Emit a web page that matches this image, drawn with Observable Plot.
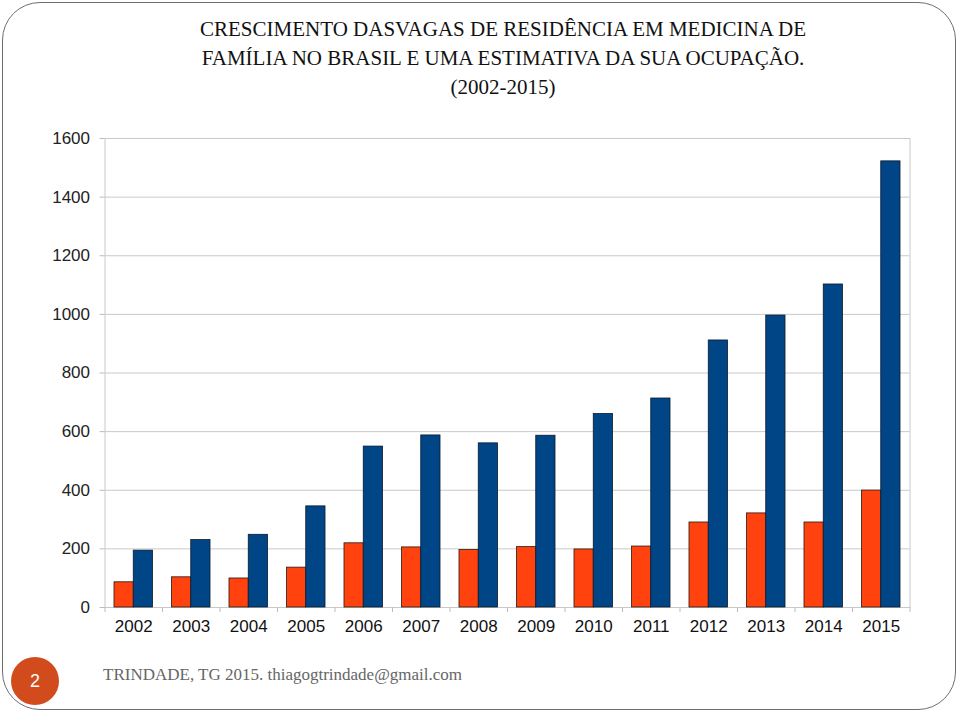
<!DOCTYPE html>
<html>
<head>
<meta charset="utf-8">
<script src="https://cdn.jsdelivr.net/npm/d3@7"></script>
<script src="https://cdn.jsdelivr.net/npm/@observablehq/plot@0.6"></script>
<style>
  html, body { margin: 0; padding: 0; background: #fff; }
  #slide { position: relative; width: 960px; height: 714px; overflow: hidden; background: #fff; }
  #frame { position: absolute; left: 2px; top: 2px; width: 952px; height: 706px; border: 1.5px solid #6e6e6e; border-radius: 38px; box-sizing: content-box; }
  #title { position: absolute; left: 0; width: 1006px; top: 15px; text-align: center; font-family: "Liberation Serif", serif; font-size: 21px; line-height: 29px; color: #111; }
  #chart { position: absolute; left: 0; top: 120px; }
  #badge { position: absolute; left: 11px; top: 657px; width: 48px; height: 48px; border-radius: 50%; background: #d14b1d; color: #fff; font-family: "Liberation Sans", sans-serif; font-size: 18px; line-height: 48px; text-align: center; }
  #footer { position: absolute; left: 103px; top: 665px; font-family: "Liberation Serif", serif; font-size: 17px; color: #666; }
</style>
</head>
<body>
<div id="slide">
  <div id="frame"></div>
  <div id="title">CRESCIMENTO DASVAGAS DE RESIDÊNCIA EM MEDICINA DE<br>FAMÍLIA NO BRASIL E UMA ESTIMATIVA DA SUA OCUPAÇÃO.<br>(2002-2015)</div>
  <div id="chart"></div>
  <div id="badge">2</div>
  <div id="footer">TRINDADE, TG 2015. thiagogtrindade@gmail.com</div>
</div>
<script>
const years = ["2002","2003","2004","2005","2006","2007","2008","2009","2010","2011","2012","2013","2014","2015"];
const ocupadas = [86, 103, 99, 136, 219, 205, 196, 206, 198, 208, 290, 321, 290, 399];
const vagas = [194, 230, 248, 345, 549, 587, 560, 586, 660, 713, 911, 996, 1102, 1522];
const yTicks = [0, 200, 400, 600, 800, 1000, 1200, 1400, 1600];

const data = years.map((year, i) => ({year, ocupadas: ocupadas[i], vagas: vagas[i]}));

const W = 960, H = 530, mL = 104.5, mR = 50.5, mT = 18, mB = 43;
const bw = (W - mL - mR) / years.length;

const chart = Plot.plot({
  width: W, height: H,
  marginLeft: mL, marginRight: mR, marginTop: mT, marginBottom: mB,
  style: {fontFamily: "'Liberation Sans', Arial, sans-serif", fontSize: "17px", background: "transparent"},
  x: {type: "band", domain: years, padding: 0, round: false, label: null},
  y: {domain: [0, 1600], label: null},
  marks: [
    Plot.gridY(yTicks, {stroke: "#c9c9c9", strokeOpacity: 1}),
    Plot.frame({stroke: "#c9c9c9"}),
    Plot.barY(data, {x: "year", y: "ocupadas", fill: "#ff420e", stroke: "#2a1a14", strokeWidth: 0.8, insetLeft: bw * 0.165, insetRight: bw * 0.5}),
    Plot.barY(data, {x: "year", y: "vagas", fill: "#004586", stroke: "#0a1a2a", strokeWidth: 0.8, insetLeft: bw * 0.5, insetRight: bw * 0.165}),
    Plot.axisY(yTicks, {tickSize: 5, tickPadding: 10, tickFormat: d => String(d), stroke: "#bdbdbd", fill: "#222", fontSize: 17, label: null}),
    Plot.axisX({tickSize: 0, tickPadding: 12, fill: "#111", fontSize: 17, label: null}),
    Plot.axisX(years, {tickSize: 5, dx: -bw / 2, tickFormat: () => "", stroke: "#bdbdbd", label: null}),
    Plot.axisX([years[years.length - 1]], {tickSize: 5, dx: bw / 2, tickFormat: () => "", stroke: "#bdbdbd", label: null})
  ]
});
document.getElementById("chart").appendChild(chart);
</script>
</body>
</html>
